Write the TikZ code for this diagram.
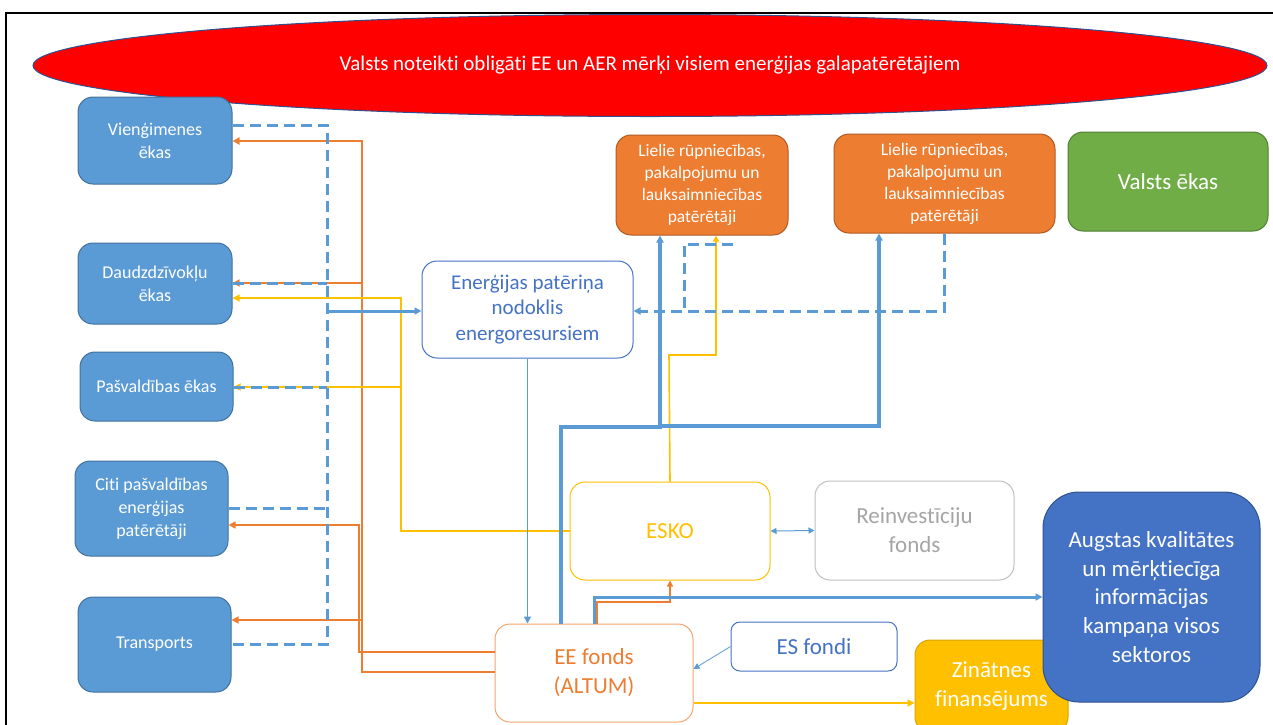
\documentclass[tikz,border=0pt]{standalone}
\usepackage{fontspec}
\setmainfont{Carlito}[Ligatures={NoCommon}]
\usetikzlibrary{arrows.meta,shapes.geometric}

\definecolor{skyfill}{HTML}{5B9BD5}
\definecolor{skyline}{HTML}{41719C}
\definecolor{navyfill}{HTML}{4472C4}
\definecolor{navyline}{HTML}{2F528F}
\definecolor{orfill}{HTML}{ED7D31}
\definecolor{orline}{HTML}{AE5A21}
\definecolor{orlight}{HTML}{F4A46E}
\definecolor{goldfill}{HTML}{FFC000}
\definecolor{goldline}{HTML}{D9A400}
\definecolor{grfill}{HTML}{70AD47}
\definecolor{grline}{HTML}{507E32}
\definecolor{greyline}{HTML}{BFBFBF}
\definecolor{greytext}{HTML}{A5A5A5}

\begin{document}
\begin{tikzpicture}[x=1pt,y=-1pt,
  box/.style={rectangle, rounded corners=15pt, align=center, inner sep=2pt, line width=1pt},
  sector/.style={box, fill=skyfill, draw=skyline, text=white, font=\fontsize{18}{23}\selectfont},
  bigco/.style={box, fill=orfill, draw=orline, text=white, font=\fontsize{17.5}{22}\selectfont},
  plain/.style={box, fill=white, font=\fontsize{23}{29}\selectfont},
  tip/.style={-{Triangle[length=7pt,width=7pt]}},
  smalltip/.style={-{Triangle[length=6pt,width=6pt]}},
  bluethin/.style={draw=skyfill, line width=1.5pt, tip},
  bluethick/.style={draw=skyfill, line width=3.5pt},
  bluemid/.style={draw=skyfill, line width=3pt},
  bluedash/.style={draw=skyfill, line width=3pt, dash pattern=on 11pt off 6pt},
  orline1/.style={draw=orfill, line width=1.5pt},
  orline2/.style={draw=orfill, line width=2.3pt},
  goldln/.style={draw=goldfill, line width=1.6pt},
]
\clip (0,0) rectangle (1273,724);
\useasboundingbox (0,0) rectangle (1273,724);

% slide frame
\draw[line width=2.5pt] (6,760) -- (6,13) -- (1290,13);

% headline target
\node[ellipse, fill=red, draw=navyline, line width=1pt, inner sep=0pt,
      minimum width=1234pt, minimum height=102pt, text=white,
      font=\fontsize{21}{25}\selectfont] (goal) at (650,65.5)
  {Valsts noteikti obligāti EE un AER mērķi visiem enerģijas galapatērētājiem};

% consumer groups on the left
\node[sector, minimum width=154pt, minimum height=87pt] (viena)  at (155,140.5) {Vienģimenes\\ēkas};
\node[sector, minimum width=154pt, minimum height=81pt] (daudz)  at (155,283.5) {Daudzdzīvokļu\\ēkas};
\node[sector, minimum width=153pt, minimum height=69pt] (pasv)   at (156.5,386.5) {Pašvaldības ēkas};
\node[sector, minimum width=153pt, minimum height=95pt] (citi)   at (151.5,508.5) {Citi pašvaldības\\enerģijas\\patērētāji};
\node[sector, minimum width=153pt, minimum height=95pt] (transp) at (154.5,644.5) {Transports};

% tax
\node[box, draw=navyfill, text=navyfill, fill=white, minimum width=211pt, minimum height=97pt,
      font=\fontsize{21}{25.5}\selectfont] (tax) at (527.5,309.5)
  {Enerģijas patēriņa\\nodoklis\\energoresursiem};

% large consumers and state buildings
\node[bigco, minimum width=172pt, minimum height=100pt] (big1) at (702,185)
  {Lielie rūpniecības,\\pakalpojumu un\\lauksaimniecības\\patērētāji};
\node[bigco, minimum width=221pt, minimum height=99pt] (big2) at (944.5,183.5)
  {Lielie rūpniecības,\\pakalpojumu un\\lauksaimniecības\\patērētāji};
\node[box, fill=grfill, draw=grline, text=white, minimum width=200pt, minimum height=99pt,
      font=\fontsize{23}{28}\selectfont] (state) at (1168,181.5) {Valsts ēkas};

% funding and services
\node[plain, draw=goldfill, text=goldfill, minimum width=200pt, minimum height=98pt] (esko) at (670,531) {ESKO};
\node[plain, draw=greyline, text=greytext, minimum width=199pt, minimum height=99pt] (reinv) at (914.5,530.5) {Reinvestīciju\\fonds};
\node[plain, draw=orlight, text=orfill, minimum width=198pt, minimum height=98pt] (eef) at (594,673) {EE fonds\\(ALTUM)};
\node[plain, draw=navyfill, text=navyfill, rounded corners=9pt, minimum width=166pt, minimum height=49pt] (esf) at (814,646.5) {ES fondi};
\node[box, fill=goldfill, draw=goldline, text=white, minimum width=153pt, minimum height=92pt,
      font=\fontsize{23}{28.5}\selectfont] (sci) at (991.5,686) {Zinātnes\\finansējums};
\node[box, fill=navyfill, draw=navyline, text=white, rounded corners=36pt, minimum width=217pt, minimum height=210pt,
      font=\fontsize{23}{28.8}\selectfont] (info) at (1151.5,597)
  {Augstas kvalitātes\\un mērķtiecīga\\informācijas\\kampaņa visos\\sektoros};

% EE fund support to the sectors (orange)
\draw[orline2, tip] (eef.west |- 0,672) -- (362,672) -- (362,141) -- (viena.east |- 0,141);
\draw[orline1, tip] (362,283) -- (daudz.east |- 0,283);
\draw[orline1, tip] (362,620) -- (transp.east |- 0,620);
\draw[orline1, tip] (eef.west |- 0,652) -- (359,652) -- (359,525) -- (citi.east |- 0,525);
\draw[orline1, smalltip] (eef.north -| 597,0) -- (597,602) -- (670,602) -- (esko.south);

% ESCO services (gold)
\draw[goldln, line width=1.3pt, tip] (esko.west) -- (401,531) -- (401,298) -- (daudz.east |- 0,298);
\draw[goldln, line width=2pt, tip] (401,387) -- (pasv.east |- 0,387);
\draw[goldln, smalltip] (esko.north) -- (669,355) -- (716,355) -- (big1.south -| 716,0);
\draw[goldln, line width=2pt, tip] (eef.east |- 0,703) -- (sci.west |- 0,703);

% tax payments (dashed blue)
\draw[bluedash] (viena.east |- 0,125) -- (327,125) -- (327,644) -- (transp.east |- 0,644);
\draw[bluedash] (daudz.east |- 0,283) -- (327,283);
\draw[bluedash] (pasv.east |- 0,387) -- (327,387);
\draw[bluedash] (citi.east |- 0,508) -- (327,508);
\draw[bluemid, tip] (327,311) -- (tax.west |- 0,311);
\coordinate (big1pay) at (733,244);
\draw[bluedash] (big1pay) -- (684,244) -- (684,311);
\draw[bluedash, tip] (big2.south -| 944,0) -- (944,311) -- (tax.east |- 0,311);

% tax revenue to the fund and fund outflows (blue)
\draw[bluethin] (tax.south) -- (eef.north -| tax.south);
\draw[bluethick, tip] (eef.north -| 561,0) -- (561,427) -- (660,427) -- (big1.south -| 660,0);
\draw[bluethick, tip] (660,426) -- (879,426) -- (big2.south -| 879,0);
\draw[bluemid, tip] (eef.north -| 594,0) -- (594,597) -- (info.west |- 0,597);
\draw[draw=skyfill, line width=1pt, {Triangle[length=6pt,width=6pt]}-{Triangle[length=6pt,width=6pt]}] (esko.east) -- (reinv.west);
\draw[draw=skyfill, line width=0.8pt, smalltip] (esf.west) -- (eef.east |- 0,669);

\end{tikzpicture}
\end{document}
